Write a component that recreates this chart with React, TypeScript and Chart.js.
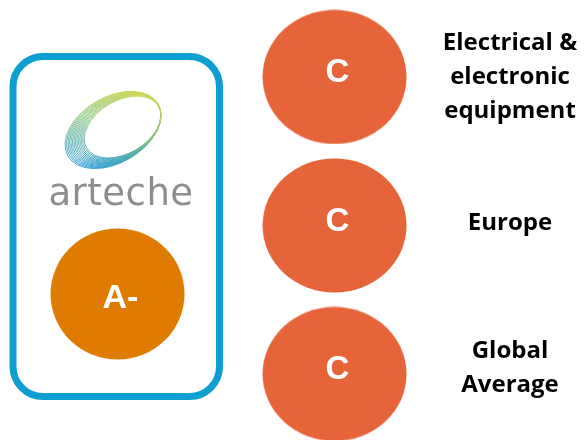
import React, { useEffect, useRef } from "react";
import { Chart, registerables } from "chart.js";

Chart.register(...registerables);

// ---- data ----
const companyName = "arteche";
const companyScores = ["A-"];
const benchmarkCategories = ["Electrical & electronic equipment", "Europe", "Global Average"];
const benchmarkLabelLines = [["Electrical &", "electronic", "equipment"], ["Europe"], ["Global", "Average"]];
const benchmarkScores = ["C", "C", "C"];

// ---- layout (grid positions, not data) ----
const COMPANY_COLUMN = 0;
const BENCHMARK_COLUMN = 1;
const COMPANY_ROW = 1.461;
const LABEL_SHIFT = [7, 4.5, 1];

const COMPANY_COLOR = "#DF7B00";
const BENCHMARK_COLOR = "#E6643A";
const FRAME_COLOR = "#0E9ED1";

function makeDisc(rx: number, ry: number, color: string): HTMLCanvasElement {
  const c = document.createElement("canvas");
  c.width = Math.round(rx * 2);
  c.height = Math.round(ry * 2);
  const ctx = c.getContext("2d")!;
  ctx.fillStyle = color;
  ctx.beginPath();
  ctx.ellipse(c.width / 2, c.height / 2, rx - 0.5, ry - 0.5, 0, 0, Math.PI * 2);
  ctx.fill();
  return c;
}

function roundRectPath(ctx: CanvasRenderingContext2D, x: number, y: number, w: number, h: number, r: number) {
  ctx.beginPath();
  ctx.moveTo(x + r, y);
  ctx.lineTo(x + w - r, y);
  ctx.arcTo(x + w, y, x + w, y + r, r);
  ctx.lineTo(x + w, y + h - r);
  ctx.arcTo(x + w, y + h, x + w - r, y + h, r);
  ctx.lineTo(x + r, y + h);
  ctx.arcTo(x, y + h, x, y + h - r, r);
  ctx.lineTo(x, y + r);
  ctx.arcTo(x, y, x + r, y, r);
  ctx.closePath();
}

const infographicPlugin = {
  id: "infographic",
  beforeDatasetsDraw(chart: any) {
    const ctx: CanvasRenderingContext2D = chart.ctx;
    const p = chart.getDatasetMeta(0).data[0];
    if (!p) return;
    const cx = p.x;
    const cy = p.y;
    ctx.save();
    // frame
    ctx.strokeStyle = FRAME_COLOR;
    ctx.lineWidth = 7;
    roundRectPath(ctx, cx - 104.5, cy - 237.5, 206.5, 340, 30);
    ctx.stroke();

    // logo swirl: stack of tilted loops converging at the right end
    const c0x = cx - 4.5;
    const c0y = cy - 164;
    const a = 52;
    const b = 33;
    const th = -30 * Math.PI / 180;
    const rX = c0x + 48;
    const rY = c0y - 14.6;
    const grad = ctx.createLinearGradient(cx + 10, cy - 203, cx - 10, cy - 125);
    grad.addColorStop(0, "#CBD65A");
    grad.addColorStop(0.45, "#8DC67E");
    grad.addColorStop(1, "#1C97C9");
    ctx.strokeStyle = grad;
    ctx.lineWidth = 0.85;
    const N = 14;
    for (let i = 0; i < N; i++) {
      const s = 1 - 0.2 * (i / (N - 1));
      const ex = rX + s * (c0x - rX);
      const ey = rY + s * (c0y - rY);
      ctx.beginPath();
      ctx.ellipse(ex, ey, a * s, b * s, th, 0, Math.PI * 2);
      ctx.stroke();
    }

    // company name
    ctx.fillStyle = "#8E8E8E";
    ctx.font = "37px 'DejaVu Sans', sans-serif";
    (ctx as any).letterSpacing = "0.5px";
    ctx.textAlign = "center";
    ctx.textBaseline = "alphabetic";
    ctx.fillText(companyName, cx + 3.5, cy - 89);
    ctx.restore();
  },
  afterDatasetsDraw(chart: any) {
    const ctx: CanvasRenderingContext2D = chart.ctx;
    ctx.save();
    ctx.fillStyle = "#FFFFFF";
    ctx.textAlign = "center";
    ctx.textBaseline = "alphabetic";
    // company score
    chart.getDatasetMeta(0).data.forEach((pt: any, i: number) => {
      ctx.font = "bold 34px 'Liberation Sans', Arial, sans-serif";
      ctx.fillText(companyScores[i], pt.x + 3, pt.y + 14);
    });
    // benchmark scores + labels
    chart.getDatasetMeta(1).data.forEach((pt: any, i: number) => {
      ctx.fillStyle = "#FFFFFF";
      ctx.font = "bold 33px 'Liberation Sans', Arial, sans-serif";
      ctx.fillText(benchmarkScores[i], pt.x + 3, pt.y + 5.5);
      const lines = benchmarkLabelLines[i];
      ctx.fillStyle = "#000000";
      ctx.font = "bold 24px 'Open Sans', sans-serif";
      const lh = 34;
      const mid = pt.y + LABEL_SHIFT[i];
      lines.forEach((ln, j) => {
        const y = mid + (j - (lines.length - 1) / 2) * lh;
        ctx.fillText(ln, pt.x + 175.5, y);
      });
    });
    ctx.restore();
  },
};

export default function App() {
  const ref = useRef<HTMLCanvasElement | null>(null);
  useEffect(() => {
    document.body.style.margin = "0";
    const canvas = ref.current;
    if (!canvas) return;
    const companyDisc = makeDisc(67.5, 66, COMPANY_COLOR);
    const benchDisc = makeDisc(72.5, 67.5, BENCHMARK_COLOR);
    const chart = new Chart(canvas, {
      type: "scatter",
      data: {
        datasets: [
          {
            label: companyName,
            data: companyScores.map(() => ({ x: COMPANY_COLUMN, y: COMPANY_ROW })),
            pointStyle: companyDisc as any,
            pointRadius: 60,
            clip: false as any,
          },
          {
            label: "Benchmarks",
            data: benchmarkCategories.map((_, i) => ({ x: BENCHMARK_COLUMN, y: i })),
            pointStyle: benchDisc as any,
            pointRadius: 60,
            clip: false as any,
          },
        ],
      },
      options: {
        animation: false,
        responsive: false,
        layout: { padding: 0, autoPadding: false },
        plugins: { legend: { display: false }, tooltip: { enabled: false } },
        scales: {
          x: { type: "linear", display: false, bounds: "data", grace: 0, min: -0.5415, max: 2.1636 },
          y: { type: "linear", display: false, bounds: "data", grace: 0, reverse: true, min: -0.5185, max: 2.4445 },
        },
        events: [],
      },
      plugins: [infographicPlugin],
    });
    return () => chart.destroy();
  }, []);
  return (
    <div style={{ width: 587, height: 440, background: "#fff" }}>
      <canvas ref={ref} width={587} height={440} style={{ display: "block" }} />
    </div>
  );
}
